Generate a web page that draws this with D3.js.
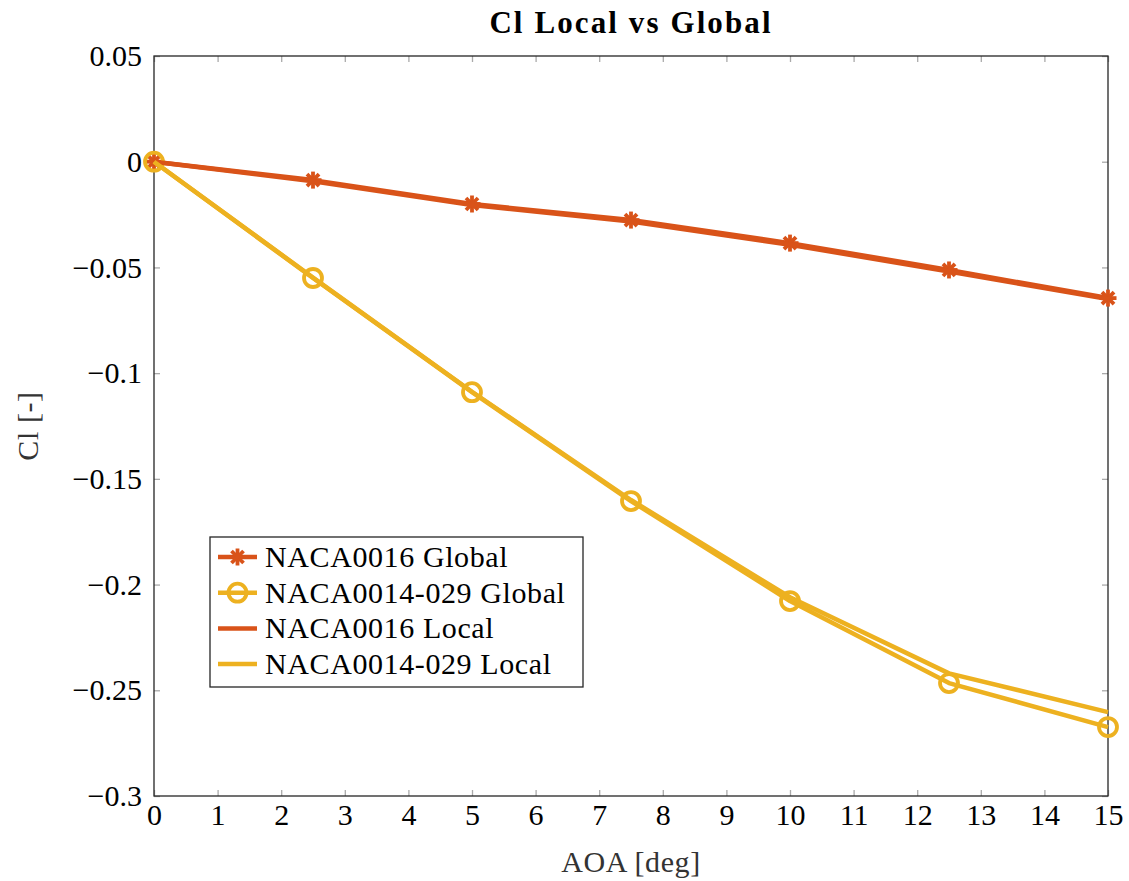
<html>
<head>
<meta charset="utf-8">
<title>Cl Local vs Global</title>
<script src="https://cdn.jsdelivr.net/npm/d3@7"></script>
<style>
  body { margin: 0; background: #fff; }
  text { font-family: "Liberation Serif", "DejaVu Serif", serif; }
</style>
</head>
<body>
<svg width="1129" height="881"></svg>
<script>
var aoa = [0, 2.5, 5, 7.5, 10, 12.5, 15];
var naca16Global = [0, -0.0087, -0.0200, -0.0276, -0.0385, -0.0512, -0.0645];
var naca14Global = [0, -0.0550, -0.1090, -0.1605, -0.2078, -0.2466, -0.2674];
var naca16Local = [0, -0.0092, -0.0205, -0.0283, -0.0393, -0.0519, -0.0650];
var naca14Local = [0, -0.0548, -0.1088, -0.1600, -0.2060, -0.2420, -0.2603];
var xTicks = d3.range(0, 16);
var yTicks = [0.05, 0, -0.05, -0.1, -0.15, -0.2, -0.25, -0.3];

var red = "#D95319", yellow = "#EDB120";

var svg = d3.select("svg"),
    margin = {top: 56, right: 21, bottom: 85, left: 154},
    width = 1129 - margin.left - margin.right,
    height = 881 - margin.top - margin.bottom,
    g = svg.append("g").attr("transform", `translate(${margin.left},${margin.top})`);

var x = d3.scaleLinear().domain([0, 15]).range([0, width]);
var y = d3.scaleLinear().domain([-0.3, 0.05]).range([height, 0]);

var fmt = v => v === 0 ? "0" : (v < 0 ? "\u2212" : "") + String(Math.abs(Math.round(v * 100) / 100));

// ticks (inside, both sides)
function tickStyle(sel) {
  sel.select(".domain").remove();
  sel.selectAll(".tick line").attr("stroke", "#aaa").attr("stroke-width", 1.3);
  sel.selectAll(".tick text").attr("fill", "#000").style("font-size", "30px");
}
g.append("g").attr("transform", `translate(0,${height})`)
  .call(d3.axisBottom(x).tickValues(xTicks).tickSizeInner(-6).tickPadding(8).tickFormat(d3.format("d")))
  .call(tickStyle);
g.append("g")
  .call(d3.axisTop(x).tickValues(xTicks).tickSizeInner(-6).tickFormat(""))
  .call(tickStyle);
g.append("g")
  .call(d3.axisLeft(y).tickValues(yTicks).tickSizeInner(-6).tickPadding(12).tickFormat(fmt))
  .call(tickStyle);
g.append("g").attr("transform", `translate(${width},0)`)
  .call(d3.axisRight(y).tickValues(yTicks).tickSizeInner(-6).tickFormat(""))
  .call(tickStyle);

g.append("rect").attr("width", width).attr("height", height)
  .attr("fill", "none").attr("stroke", "#262626").attr("stroke-width", 1.3);

var series = [
  {name: "NACA0016 Global", vals: naca16Global, color: red, marker: "star"},
  {name: "NACA0014-029 Global", vals: naca14Global, color: yellow, marker: "circle"},
  {name: "NACA0016 Local", vals: naca16Local, color: red, marker: null},
  {name: "NACA0014-029 Local", vals: naca14Local, color: yellow, marker: null}
];

var line = d3.line().x((d, i) => x(aoa[i])).y(d => y(d));

function drawMarker(sel, type, color, cx, cy) {
  if (type === "circle") {
    sel.append("circle").attr("cx", cx).attr("cy", cy).attr("r", 9)
      .attr("fill", "none").attr("stroke", color).attr("stroke-width", 3.8);
  } else if (type === "star") {
    var r = 8.5;
    [0, 45, 90, 135].forEach(function(a) {
      var rad = a * Math.PI / 180;
      sel.append("line")
        .attr("x1", cx - r * Math.cos(rad)).attr("y1", cy - r * Math.sin(rad))
        .attr("x2", cx + r * Math.cos(rad)).attr("y2", cy + r * Math.sin(rad))
        .attr("stroke", color).attr("stroke-width", 3.8);
    });
  }
}

series.forEach(function(s) {
  g.append("path").datum(s.vals)
    .attr("fill", "none").attr("stroke", s.color).attr("stroke-width", 4.5)
    .attr("stroke-linejoin", "round")
    .attr("d", line);
  if (s.marker) {
    var mg = g.append("g");
    s.vals.forEach((v, i) => drawMarker(mg, s.marker, s.color, x(aoa[i]), y(v)));
  }
});

// legend
var lg = svg.append("g").attr("transform", "translate(210,537)");
lg.append("rect").attr("width", 373).attr("height", 150)
  .attr("fill", "#fff").attr("stroke", "#262626").attr("stroke-width", 1.3);
series.forEach(function(s, i) {
  var yy = 20 + i * 35.7;
  lg.append("line").attr("x1", 8).attr("x2", 47).attr("y1", yy).attr("y2", yy)
    .attr("stroke", s.color).attr("stroke-width", 4.5);
  if (s.marker) drawMarker(lg, s.marker, s.color, 27.5, yy);
  lg.append("text").attr("x", 55).attr("y", yy + 10)
    .style("font-size", "30px").style("letter-spacing", "0.6px").attr("fill", "#000").text(s.name);
});

// title and axis labels
svg.append("text").attr("x", margin.left + width / 2).attr("y", 33)
  .attr("text-anchor", "middle").style("font-size", "31px").style("font-weight", "bold")
  .style("letter-spacing", "2.1px")
  .text("Cl Local vs Global");
svg.append("text").attr("x", margin.left + width / 2).attr("y", 872)
  .attr("text-anchor", "middle").style("font-size", "30px").style("letter-spacing", "0.6px").attr("fill", "#333")
  .text("AOA [deg]");
svg.append("text").attr("transform", `translate(38,${margin.top + height / 2}) rotate(-90)`)
  .attr("text-anchor", "middle").style("font-size", "30px").style("letter-spacing", "0.6px").attr("fill", "#333")
  .text("Cl [-]");
</script>
</body>
</html>
